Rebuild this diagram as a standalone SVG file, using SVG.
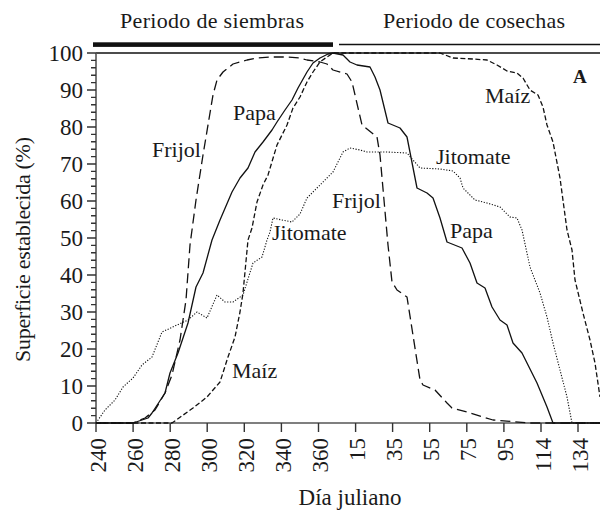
<svg xmlns="http://www.w3.org/2000/svg" width="600" height="512" viewBox="0 0 600 512">
<style>
text{font-family:"Liberation Serif","Times New Roman",serif;fill:#1a1a1a}
.lbl{font-size:22px}
.tick{font-size:23px}
.ax{stroke:#555;stroke-width:1.6;fill:none}
.tk{stroke:#333;stroke-width:1.4}
.c{fill:none;stroke:#111;stroke-width:1.3;stroke-linejoin:round}
.frijol{stroke-dasharray:10 5}
.maiz{stroke-dasharray:5 2.5}
.jito{stroke-dasharray:1.2 1.6;stroke-width:1.1}
</style>
<rect width="600" height="512" fill="#fff"/>
<g id="header">
<text class="lbl" x="212" y="28" text-anchor="middle" textLength="184">Periodo de siembras</text>
<text class="lbl" x="474" y="28" text-anchor="middle" textLength="182">Periodo de cosechas</text>
<rect x="93" y="42.3" width="240" height="4.6" fill="#111"/>
<line x1="339" y1="44.5" x2="600" y2="44.5" stroke="#111" stroke-width="1.5"/>
</g>
<g id="axes">
<line x1="96" y1="53" x2="600" y2="53" stroke="#111" stroke-width="1.5"/>
<line class="ax" x1="96" y1="53" x2="96" y2="424"/>
<line class="ax" x1="95" y1="423" x2="600" y2="423"/>
<g class="tk">
<path d="M87 53H96M87 90H96M87 127H96M87 164H96M87 201H96M87 238H96M87 275H96M87 312H96M87 349H96M87 386H96M87 423H96" stroke-width="1.6"/>
<path d="M91 60.4H96M91 67.8H96M91 75.2H96M91 82.6H96M91 97.4H96M91 104.8H96M91 112.2H96M91 119.6H96M91 134.4H96M91 141.8H96M91 149.2H96M91 156.6H96M91 171.4H96M91 178.8H96M91 186.2H96M91 193.6H96M91 208.4H96M91 215.8H96M91 223.2H96M91 230.6H96M91 245.4H96M91 252.8H96M91 260.2H96M91 267.6H96M91 282.4H96M91 289.8H96M91 297.2H96M91 304.6H96M91 319.4H96M91 326.8H96M91 334.2H96M91 341.6H96M91 356.4H96M91 363.8H96M91 371.2H96M91 378.6H96M91 393.4H96M91 400.8H96M91 408.2H96M91 415.6H96"/>
<path d="M96 423V432M133.1 423V432M170.2 423V432M207.2 423V432M244.3 423V432M281.4 423V432M318.5 423V432M355.6 423V432M392.6 423V432M429.7 423V432M466.8 423V432M503.9 423V432M541 423V432M578 423V432"/>
</g>
<g class="tick" text-anchor="end">
<text x="83" y="61">100</text>
<text x="83" y="98">90</text>
<text x="83" y="135">80</text>
<text x="83" y="172">70</text>
<text x="83" y="209">60</text>
<text x="83" y="246">50</text>
<text x="83" y="283">40</text>
<text x="83" y="320">30</text>
<text x="83" y="357">20</text>
<text x="83" y="394">10</text>
<text x="83" y="431">0</text>
</g>
<g class="tick" text-anchor="end">
<text transform="translate(105.5,438) rotate(-90)">240</text>
<text transform="translate(142.6,438) rotate(-90)">260</text>
<text transform="translate(179.7,438) rotate(-90)">280</text>
<text transform="translate(216.7,438) rotate(-90)">300</text>
<text transform="translate(253.8,438) rotate(-90)">320</text>
<text transform="translate(290.9,438) rotate(-90)">340</text>
<text transform="translate(328,438) rotate(-90)">360</text>
<text transform="translate(365.1,438) rotate(-90)">15</text>
<text transform="translate(402.1,438) rotate(-90)">35</text>
<text transform="translate(439.2,438) rotate(-90)">55</text>
<text transform="translate(476.3,438) rotate(-90)">75</text>
<text transform="translate(513.4,438) rotate(-90)">95</text>
<text transform="translate(550.5,438) rotate(-90)">114</text>
<text transform="translate(587.5,438) rotate(-90)">134</text>
</g>
<text class="tick" x="350" y="505" text-anchor="middle">Día juliano</text>
<text class="lbl" transform="translate(30,249.5) rotate(-90)" text-anchor="middle" textLength="225">Superficie establecida (%)</text>
</g>
<g id="connectors">
<path id="frijol" class="c frijol" d="M96,423 L133,423 L145,418 L155,410 L165,393 L172,375 L180,340 L186,300 L190,245 L196,200 L203,155 L213,95 L217,80 L223,72 L233,64 L247,60 L257,58 L270,57 L287,57 L300,58 L307,60 L320,62 L327,64 L333,70 L347,74 L352,82 L362,125 L377,137 L380,155 L388,245 L392,282 L397,290 L407,297 L420,380 L423,385 L435,390 L447,403 L452,408 L467,412 L493,420 L530,423 L600,423"/>
<path id="papa" class="c" d="M96,423 L133,423 L148,418 L152,413 L165,393 L170,373 L178,353 L188,323 L196,287 L203,273 L212,240 L220,220 L232,192 L240,178 L248,168 L255,152 L263,142 L272,130 L277,122 L285,110 L292,100 L298,88 L307,72 L313,63 L320,58 L328,54 L333,53 L343,55 L350,62 L357,65 L370,67 L375,77 L380,90 L388,123 L400,128 L407,137 L417,188 L427,193 L433,198 L440,218 L447,242 L462,248 L470,263 L477,283 L485,288 L492,307 L500,320 L507,325 L513,343 L522,353 L537,383 L547,407 L553,423 L600,423"/>
<path id="jitomate" class="c jito" d="M96,423 L105,410 L115,400 L123,387 L133,378 L142,365 L152,357 L162,332 L177,325 L188,320 L197,312 L207,318 L217,295 L225,302 L233,302 L243,295 L253,263 L262,257 L267,240 L270,232 L273,218 L282,220 L292,222 L300,214 L307,198 L317,188 L327,178 L333,172 L338,162 L343,152 L350,148 L360,150 L367,152 L387,152 L407,153 L413,160 L420,168 L440,169 L453,171 L460,178 L463,188 L475,200 L487,203 L500,207 L510,217 L517,218 L522,230 L530,267 L540,293 L547,317 L553,343 L560,370 L567,397 L572,423 L600,423"/>
<path id="maiz" class="c maiz" d="M96,423 L172,423 L193,408 L207,397 L220,382 L228,357 L235,337 L240,312 L243,293 L248,240 L252,228 L257,202 L263,185 L268,175 L277,145 L287,125 L293,108 L300,97 L307,82 L313,72 L320,62 L327,57 L333,53 L440,53 L453,58 L473,59 L487,60 L497,65 L507,71 L517,73 L523,78 L530,90 L538,95 L543,107 L547,125 L553,142 L560,178 L567,230 L572,250 L575,280 L583,313 L590,340 L595,363 L600,397"/>
</g>
<g id="labels" class="lbl">
<text id="lbl-papa1" x="233" y="120">Papa</text>
<text id="lbl-frijol1" x="152" y="157">Frijol</text>
<text id="lbl-jito1" x="272" y="240">Jitomate</text>
<text id="lbl-frijol2" x="332" y="208">Frijol</text>
<text id="lbl-jito2" x="436" y="164">Jitomate</text>
<text id="lbl-maiz1" x="485" y="103">Maíz</text>
<text id="lbl-papa2" x="450" y="238">Papa</text>
<text id="lbl-maiz2" x="232" y="378">Maíz</text>
<text id="lbl-a" x="573" y="83" style="font-size:19px;font-weight:bold">A</text>
</g>
</svg>
